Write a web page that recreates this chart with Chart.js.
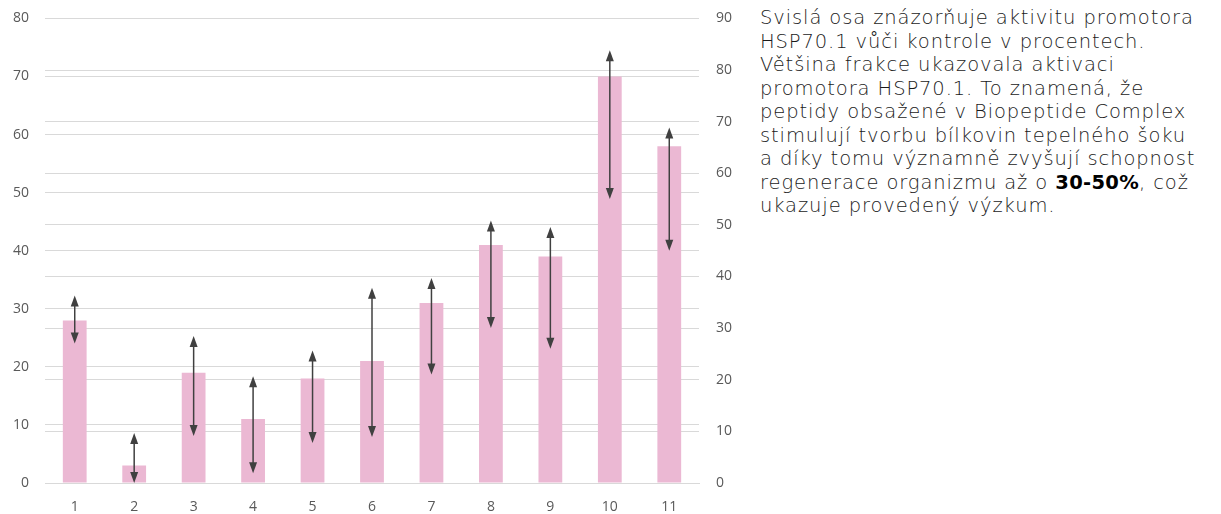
<!DOCTYPE html>
<html>
<head>
<meta charset="utf-8">
<script src="https://cdn.jsdelivr.net/npm/chart.js@4.4.0/dist/chart.umd.min.js"></script>
<style>
  body { margin: 0; background: #fff; width: 1221px; height: 514px; overflow: hidden; position: relative; }
  #wrap { position: absolute; left: 0; top: -7px; width: 750px; height: 521px; }
  #note {
    position: absolute; left: 760px; top: 6px; width: 460px;
    font-family: "DejaVu Sans", sans-serif; font-weight: 200;
    font-size: 19.5px; line-height: 23.5px; color: #1a1a1a; letter-spacing: 0.9px;
  }
  #note b { font-weight: 700; color: #000; letter-spacing: 0.3px; }
</style>
</head>
<body>
<div id="wrap"><canvas id="chart"></canvas></div>
<div id="note">
Svislá osa znázorňuje aktivitu promotora<br>
HSP70.1 vůči kontrole v procentech.<br>
Většina frakce ukazovala aktivaci<br>
promotora HSP70.1. To znamená, že<br>
peptidy obsažené v Biopeptide Complex<br>
stimulují tvorbu bílkovin tepelného šoku<br>
a díky tomu významně zvyšují schopnost<br>
regenerace organizmu až o <b>30-50%</b>, což<br>
ukazuje provedený výzkum.
</div>
<script>
// Data
const fractions = ["1", "2", "3", "4", "5", "6", "7", "8", "9", "10", "11"];
const activity = [28, 3, 19, 11, 18, 21, 31, 41, 39, 70, 58];
const errLow = [24, 0, 8.1, 1.7, 6.9, 7.9, 18.7, 26.7, 23.1, 48.9, 40];
const errHigh = [32.3, 8.6, 25.3, 18.4, 22.8, 33.6, 35.3, 45.2, 44.1, 74.5, 61.2];

// Šipky (chybové úsečky)
const arrowPlugin = {
  id: "arrows",
  afterDatasetsDraw(chart) {
    const ctx = chart.ctx;
    const x = chart.scales.x, y = chart.scales.y;
    ctx.save();
    ctx.strokeStyle = "#404040";
    ctx.fillStyle = "#404040";
    ctx.lineWidth = 1.5;
    fractions.forEach((f, i) => {
      const px = x.getPixelForValue(i);
      const top = y.getPixelForValue(errHigh[i]);
      const bot = y.getPixelForValue(errLow[i]);
      ctx.beginPath();
      ctx.moveTo(px, top + 6);
      ctx.lineTo(px, bot - 6);
      ctx.stroke();
      ctx.beginPath();
      ctx.moveTo(px, top);
      ctx.lineTo(px - 4, top + 11);
      ctx.lineTo(px + 4, top + 11);
      ctx.closePath();
      ctx.fill();
      ctx.beginPath();
      ctx.moveTo(px, bot);
      ctx.lineTo(px - 4, bot - 11);
      ctx.lineTo(px + 4, bot - 11);
      ctx.closePath();
      ctx.fill();
    });
    ctx.restore();
  }
};

const tickFont = { family: "'Open Sans', sans-serif", size: 14 };

new Chart(document.getElementById("chart"), {
  type: "bar",
  data: {
    labels: fractions,
    datasets: [{
      data: activity,
      backgroundColor: "#ebb8d3",
      barPercentage: 0.4,
      categoryPercentage: 1
    }]
  },
  options: {
    responsive: true,
    maintainAspectRatio: false,
    animation: false,
    layout: { padding: { top: 0, bottom: 0, left: 0, right: 0 } },
    plugins: { legend: { display: false }, tooltip: { enabled: false } },
    scales: {
      x: {
        grid: { display: false },
        border: { color: "#d9d9d9" },
        ticks: { color: "#595959", font: tickFont, padding: 8 },
        afterFit(s) { s.height = 31; }
      },
      y: {
        min: 0, max: 80,
        ticks: { stepSize: 10, color: "#595959", font: tickFont, padding: 16 },
        grid: { color: "#d9d9d9", drawTicks: false },
        border: { display: false },
        afterFit(s) { s.width = 45; }
      },
      y2: {
        position: "right",
        min: 0, max: 90,
        ticks: { stepSize: 10, color: "#595959", font: tickFont, padding: 17 },
        grid: { color: "#d9d9d9", drawTicks: false },
        border: { display: false },
        afterFit(s) { s.width = 51; }
      }
    }
  },
  plugins: [arrowPlugin]
});
</script>
</body>
</html>
